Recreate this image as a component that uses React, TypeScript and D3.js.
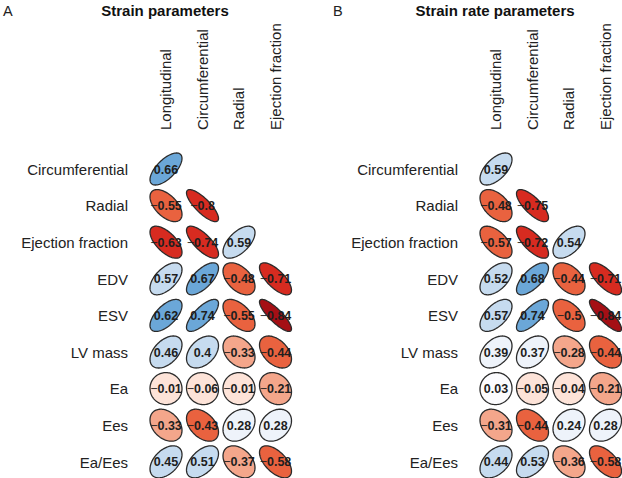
import React from 'react';
import * as d3 from 'd3';

const colNames = ['Longitudinal', 'Circumferential', 'Radial', 'Ejection fraction'];
const rowNames = ['Circumferential', 'Radial', 'Ejection fraction', 'EDV', 'ESV', 'LV mass', 'Ea', 'Ees', 'Ea/Ees'];

// lower-triangle correlations, one array per row
const strainValues: number[][] = [
  [0.66],
  [-0.55, -0.8],
  [-0.63, -0.74, 0.59],
  [0.57, 0.67, -0.48, -0.71],
  [0.62, 0.74, -0.55, -0.84],
  [0.46, 0.4, -0.33, -0.44],
  [-0.01, -0.06, -0.01, -0.21],
  [-0.33, -0.43, 0.28, 0.28],
  [0.45, 0.51, -0.37, -0.58],
];

const strainRateValues: number[][] = [
  [0.59],
  [-0.48, -0.75],
  [-0.57, -0.72, 0.54],
  [0.52, 0.68, -0.44, -0.71],
  [0.57, 0.74, -0.5, -0.84],
  [0.39, 0.37, -0.28, -0.44],
  [0.03, -0.05, -0.04, -0.21],
  [-0.31, -0.44, 0.24, 0.28],
  [0.44, 0.53, -0.36, -0.58],
];

const colorBreaks = [-0.8, -0.6, -0.4, -0.2, 0, 0.2, 0.4, 0.6];
const colorBins = ['#a50f15', '#d72b20', '#e9623f', '#f4a68b', '#fde3d8', '#fcfcfe', '#eef3fa', '#c6dbef', '#6ba7d8'];

const FONT = '"Liberation Sans", Arial, Helvetica, sans-serif';
const CELL_X = 36.5;
const CELL_Y = 36.6;
const ELL = 32; // bounding size of an ellipse

const color = d3.scaleThreshold<number, string>().domain(colorBreaks).range(colorBins);

const lineGen = d3.line<[number, number]>().curve(d3.curveLinearClosed);

// corrplot-style ellipse: x = cos(k + d/2)/2, y = cos(k - d/2)/2 with d = acos(rho)
const ellipsePath = (rho: number) => {
  const d = Math.acos(rho);
  const pts = d3.range(0, 98).map(i => {
    const k = (i / 98) * Math.PI * 2;
    return [Math.cos(k + d / 2) / 2 * ELL, -Math.cos(k - d / 2) / 2 * ELL] as [number, number];
  });
  return lineGen(pts) || '';
};

const fmt = (v: number) => String(Math.abs(v));

interface PanelProps {
  letter: string;
  title: string;
  values: number[][];
  dx: number;
}

const Panel: React.FC<PanelProps> = ({ letter, title, values, dx }) => {
  const x = d3.scalePoint<string>().domain(colNames).range([166, 166 + 3 * CELL_X]);
  const y = d3.scalePoint<string>().domain(rowNames).range([169, 169 + 8 * CELL_Y]);

  return (
    <g transform={`translate(${dx},0)`} fontFamily={FONT}>
      <text x={3} y={16} fontSize={14.5} fill="#222">{letter}</text>
      <text x={165} y={16} fontSize={15} fontWeight="bold" textAnchor="middle" fill="#111">{title}</text>

      {colNames.map(c => (
        <text key={c} transform={`translate(${x(c)},130) rotate(-90)`} dy="0.36em"
          fontSize={15} fill="#222">{c}</text>
      ))}

      {rowNames.map(r => (
        <text key={r} x={128} y={y(r)} dy="0.38em" fontSize={15} textAnchor="end" fill="#222">{r}</text>
      ))}

      {values.map((row, i) => row.map((v, j) => {
        const cx = x(colNames[j])!;
        const cy = y(rowNames[i])!;
        return (
          <g key={`${i}-${j}`} transform={`translate(${cx},${cy})`}>
            <path d={ellipsePath(v)} fill={color(v)} stroke="#2b2b2b" strokeWidth={1.3} />
            <text dy="0.36em" fontSize={12.5} fontWeight="bold" textAnchor="middle" fill="#1e1e1e">
              {v < 0 ? <tspan fontWeight="normal">{'\u2212'}</tspan> : null}
              {fmt(v)}
            </text>
          </g>
        );
      }))}
    </g>
  );
};

const App: React.FC = () => (
  <svg width={622} height={478} style={{ position: 'absolute', left: 0, top: 0, background: '#fff' }}>
    <Panel letter="A" title="Strain parameters" values={strainValues} dx={0} />
    <Panel letter="B" title="Strain rate parameters" values={strainRateValues} dx={330} />
  </svg>
);

export default App;
